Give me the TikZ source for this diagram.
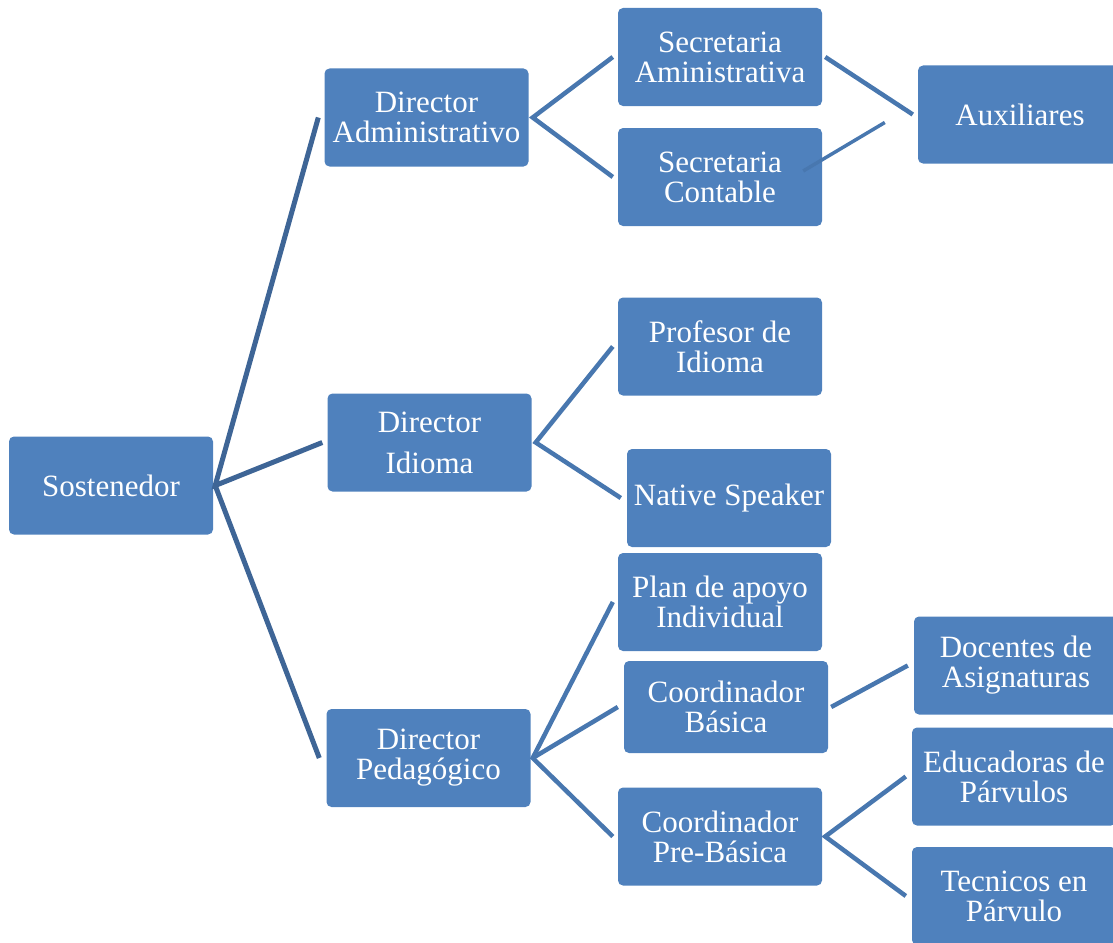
\documentclass[tikz,border=0pt]{standalone}
\usepackage{fontspec}
\setmainfont{Liberation Serif}
\usepackage{tikz}

\definecolor{cajaAzul}{RGB}{79,129,189}
\definecolor{lineaOscura}{RGB}{62,101,150}
\definecolor{lineaAzul}{RGB}{72,119,175}

\begin{document}
\begin{tikzpicture}[x=1pt,y=-1pt,
	cargo/.style={rectangle,rounded corners=5pt,fill=cajaAzul,text=white,inner sep=0pt,
		minimum width=204pt,minimum height=98pt,align=center,font=\fontsize{31}{30}\selectfont},
	rama/.style={draw=lineaOscura,line width=5pt},
	subrama/.style={draw=lineaAzul,line width=4.5pt}]
	\path [use as bounding box,clip] (0,0) rectangle (1113,942);

	\node [cargo] (sostenedor) at (111,485.5) {Sostenedor};

	\node [cargo] (dirAdmin) at (426.5,117.5) {Director\\Administrativo};
	\node [cargo] (dirIdioma) at (429.5,442.5) {Director\\[11pt]Idioma};
	\node [cargo] (dirPedagogico) at (428.5,758) {Director\\Pedag\'ogico};

	\node [cargo] (secAdmin) at (720,57) {Secretaria\\Aministrativa};
	\node [cargo] (secContable) at (720,177) {Secretaria\\Contable};
	\node [cargo] (auxiliares) at (1020,114.5) {Auxiliares};

	\node [cargo] (profIdioma) at (720,346.5) {Profesor de\\Idioma};
	\node [cargo] (nativeSpeaker) at (729,498) {Native Speaker};

	\node [cargo] (planApoyo) at (720,602) {Plan de apoyo\\Individual};
	\node [cargo,minimum height=92pt] (coordBasica) at (726,707) {Coordinador\\B\'asica};
	\node [cargo] (coordPreBasica) at (720,836.5) {Coordinador\\Pre-B\'asica};

	\node [cargo] (docentes) at (1016,665.5) {Docentes de\\Asignaturas};
	\node [cargo] (educadoras) at (1014,776.5) {Educadoras de\\P\'arvulos};
	\node [cargo] (tecnicos) at (1014,896) {Tecnicos en\\P\'arvulo};

	\draw [rama] ([xshift=-6pt]dirAdmin.west) -- ([xshift=2pt]sostenedor.east) -- ([xshift=-5pt]dirIdioma.west);
	\draw [rama] ([xshift=2pt]sostenedor.east) -- ([xshift=-7pt]dirPedagogico.west);

	\draw [subrama] ([xshift=-5pt]secAdmin.west) -- ([xshift=4pt]dirAdmin.east) -- ([xshift=-5pt]secContable.west);
	\draw [subrama] ([xshift=3pt]secAdmin.east) -- ([xshift=-5pt]auxiliares.west);
	\draw [subrama,line width=3.5pt] ([xshift=-19pt,yshift=6pt]secContable.east) -- ([xshift=-33pt,yshift=-8pt]auxiliares.west);

	\draw [subrama] ([xshift=-5pt]profIdioma.west) -- ([xshift=4pt]dirIdioma.east) -- ([xshift=-6pt]nativeSpeaker.west);

	\draw [subrama] ([xshift=-5pt]planApoyo.west) -- ([xshift=2pt]dirPedagogico.east) -- ([xshift=-5pt]coordPreBasica.west);
	\draw [subrama] ([xshift=2pt]dirPedagogico.east) -- ([xshift=-6pt]coordBasica.west);

	\draw [subrama] ([xshift=3pt]coordBasica.east) -- ([xshift=-6pt]docentes.west);
	\draw [subrama] ([xshift=-6pt]educadoras.west) -- ([xshift=3pt]coordPreBasica.east) -- ([xshift=-6pt]tecnicos.west);
\end{tikzpicture}
\end{document}
